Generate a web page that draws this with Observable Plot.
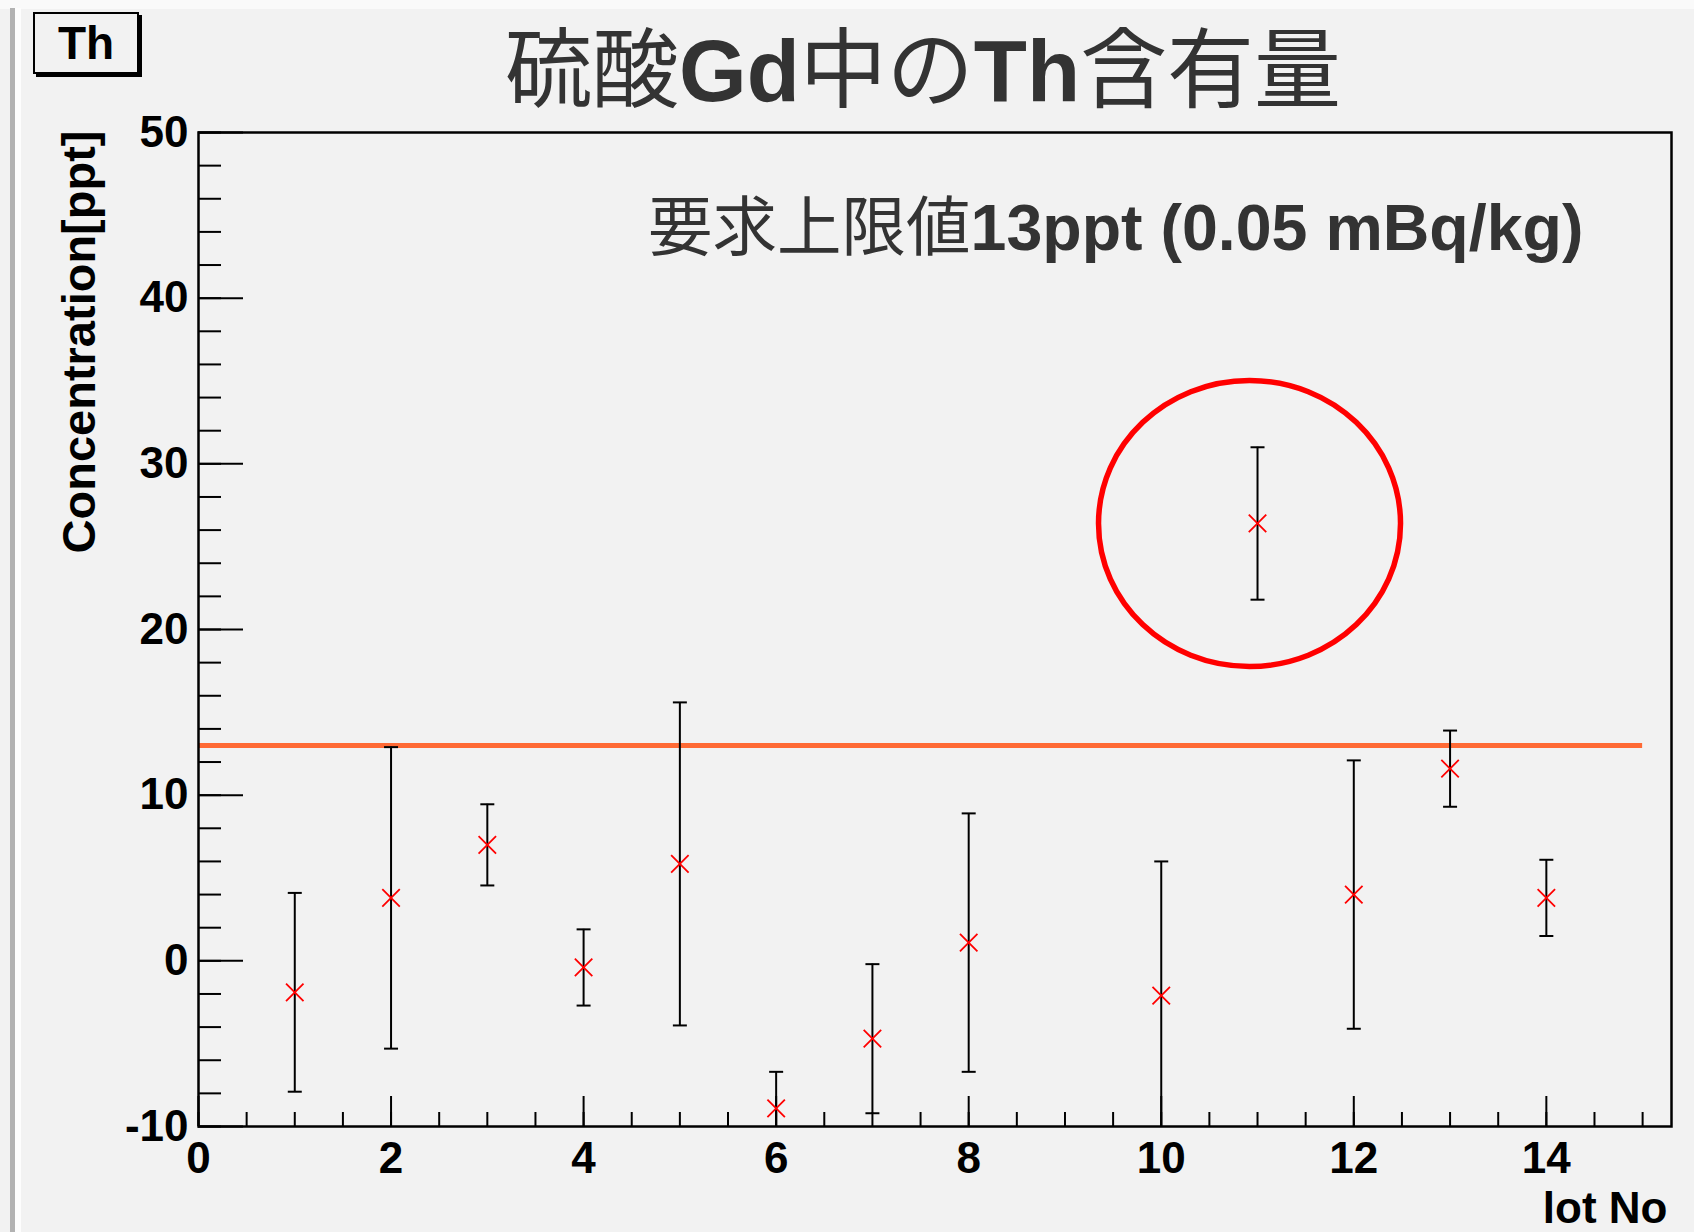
<!DOCTYPE html>
<html>
<head>
<meta charset="utf-8">
<script src="https://cdn.jsdelivr.net/npm/d3@7"></script>
<script src="https://cdn.jsdelivr.net/npm/@observablehq/plot@0.6"></script>
<style>
  html, body { margin: 0; padding: 0; background: #f2f2f2; }
  #wrap { position: relative; width: 1694px; height: 1232px; overflow: hidden; background: #f2f2f2; }
  #topstrip { position: absolute; left: 0; top: 0; width: 1694px; height: 9px; background: #fafafa; }
  #leftbar { position: absolute; left: 10px; top: 8px; width: 5px; height: 1224px; background: #b2b2b2; }
  #leftwhite { position: absolute; left: 15px; top: 8px; width: 6px; height: 1224px; background: #fdfdfd; }
  #chart { position: absolute; left: 0; top: 0; }
  .cjk { font-family: "Noto Sans CJK JP", sans-serif; font-weight: 400; }
  .lat { font-family: "Liberation Sans", Arial, sans-serif; font-weight: 700; }
  #title { position: absolute; left: 505px; top: 20px; white-space: nowrap; font-size: 87px; line-height: 87px; color: #333; }
  #note { position: absolute; left: 648px; top: 190px; white-space: nowrap; font-size: 64.5px; line-height: 64px; color: #333; }
  #thbox { position: absolute; left: 33px; top: 12px; width: 102px; height: 58px; border: 2px solid #000; box-shadow: 3px 3px 0 #000;
           background: #f2f2f2; font-family: "Liberation Sans", Arial, sans-serif; font-weight: 700; font-size: 46px; line-height: 58px; text-align: center; color: #000; }
</style>
</head>
<body>
<div id="wrap">
  <div id="topstrip"></div>
  <div id="leftbar"></div>
  <div id="leftwhite"></div>
  <div id="chart"></div>
  <div id="title"><span class="cjk">硫酸</span><span class="lat">Gd</span><span class="cjk">中の</span><span class="lat">Th</span><span class="cjk">含有量</span></div>
  <div id="note"><span class="cjk">要求上限値</span><span class="lat">13ppt (0.05 mBq/kg)</span></div>
  <div id="thbox">Th</div>
</div>
<script>
// ---- data ----
const lots          = [1, 2, 3, 4, 5, 6, 7, 8, 10, 11, 12, 13, 14];
const concentration = [-1.9, 3.8, 7.0, -0.4, 5.85, -8.9, -4.7, 1.1, -2.1, 26.4, 4.0, 11.6, 3.8];
const errors        = [6.0, 9.1, 2.45, 2.3, 9.75, 2.2, 4.5, 7.8, 8.1, 4.6, 8.1, 2.3, 2.3];
const xTickLabels   = [0, 2, 4, 6, 8, 10, 12, 14];
const yTickLabels   = [-10, 0, 10, 20, 30, 40, 50];
const xDomain       = [0, 15.3];
const yDomain       = [-10, 50];
const limitValue    = [13];
const limitFrom     = 0;
const limitTo       = 15;
const highlightedLot = [11];

const rows = lots.map((lot, i) => ({
  lot, c: concentration[i], lo: concentration[i] - errors[i], hi: concentration[i] + errors[i]
}));
const highlight = rows.filter(d => highlightedLot.includes(d.lot));
const limitRows = limitValue.map(v => ({y: v, x1: limitFrom, x2: limitTo}));

const xMinor = d3.range(0, 15.001, 0.5);
const yMinor = d3.range(-10, 50.001, 2);

// ---- layout ----
const W = 1694, H = 1232;
const mL = 198, mR = 23, mT = 132, mB = 106;
const plotW = W - mL - mR, plotH = H - mT - mB;

const capSymbol = {
  draw(ctx, size) { const r = Math.sqrt(size / Math.PI); ctx.moveTo(-r, 0); ctx.lineTo(r, 0); }
};
const ellipseSymbol = {
  draw(ctx, size) {
    const rx = 151, ry = 143, k = 0.5523;
    ctx.moveTo(rx, 0);
    ctx.bezierCurveTo(rx, ry * k, rx * k, ry, 0, ry);
    ctx.bezierCurveTo(-rx * k, ry, -rx, ry * k, -rx, 0);
    ctx.bezierCurveTo(-rx, -ry * k, -rx * k, -ry, 0, -ry);
    ctx.bezierCurveTo(rx * k, -ry, rx, -ry * k, rx, 0);
    ctx.closePath();
  }
};

const font = "Liberation Sans, Arial, sans-serif";

const chart = Plot.plot({
  width: W, height: H,
  marginLeft: mL, marginRight: mR, marginTop: mT, marginBottom: mB,
  style: {background: "none", fontFamily: font, color: "#000", overflow: "visible"},
  x: {domain: xDomain},
  y: {domain: yDomain},
  marks: [
    // inward ticks (ROOT style)
    Plot.tickX(xMinor, {x: d => d, insetTop: plotH - 14, stroke: "#000", strokeWidth: 2}),
    Plot.tickX(xTickLabels, {x: d => d, insetTop: plotH - 30, stroke: "#000", strokeWidth: 2}),
    Plot.tickY(yMinor, {y: d => d, insetRight: plotW - 23, stroke: "#000", strokeWidth: 2}),
    Plot.tickY(yTickLabels, {y: d => d, insetRight: plotW - 45, stroke: "#000", strokeWidth: 2}),
    // axes labels
    Plot.axisX(xTickLabels, {tickSize: 0, tickPadding: 15, fontSize: 44, fontWeight: "bold", fill: "#000",
      tickFormat: d => String(d), label: null}),
    Plot.axisY(yTickLabels, {tickSize: 0, tickPadding: 10, fontSize: 44, fontWeight: "bold", fill: "#000",
      tickFormat: d => String(d), label: null}),
    // limit line
    Plot.ruleY(limitRows, {y: "y", x1: "x1", x2: "x2", stroke: "#ff6a35", strokeWidth: 5}),
    // error bars
    Plot.ruleX(rows, {x: "lot", y1: "lo", y2: "hi", stroke: "#000", strokeWidth: 2, clip: true}),
    Plot.dot(rows, {x: "lot", y: "hi", symbol: capSymbol, r: 7, stroke: "#000", strokeWidth: 2, fill: "none", clip: true}),
    Plot.dot(rows, {x: "lot", y: "lo", symbol: capSymbol, r: 7, stroke: "#000", strokeWidth: 2, fill: "none", clip: true}),
    // markers
    Plot.dot(rows, {x: "lot", y: "c", symbol: "times", r: 8, stroke: "#ff0000", strokeWidth: 1.8, fill: "none"}),
    // highlight ellipse
    Plot.dot(highlight, {x: "lot", y: "c", symbol: ellipseSymbol, r: 10, stroke: "#ff0000", strokeWidth: 5.5, fill: "none", dx: -8}),
    // frame
    Plot.frame({stroke: "#000", strokeWidth: 2.5}),
    // axis titles
    Plot.text(["Concentration[ppt]"], {text: d => d, frameAnchor: "top-left", rotate: -90, textAnchor: "end",
      lineAnchor: "middle", dx: -119, dy: -2, fontSize: 47, fontWeight: "bold", fill: "#000"}),
    Plot.text(["lot No"], {text: d => d, frameAnchor: "bottom-right", textAnchor: "end", lineAnchor: "middle",
      dx: -4, dy: 82, fontSize: 44, fontWeight: "bold", fill: "#000"})
  ]
});
document.getElementById("chart").appendChild(chart);
</script>
</body>
</html>
